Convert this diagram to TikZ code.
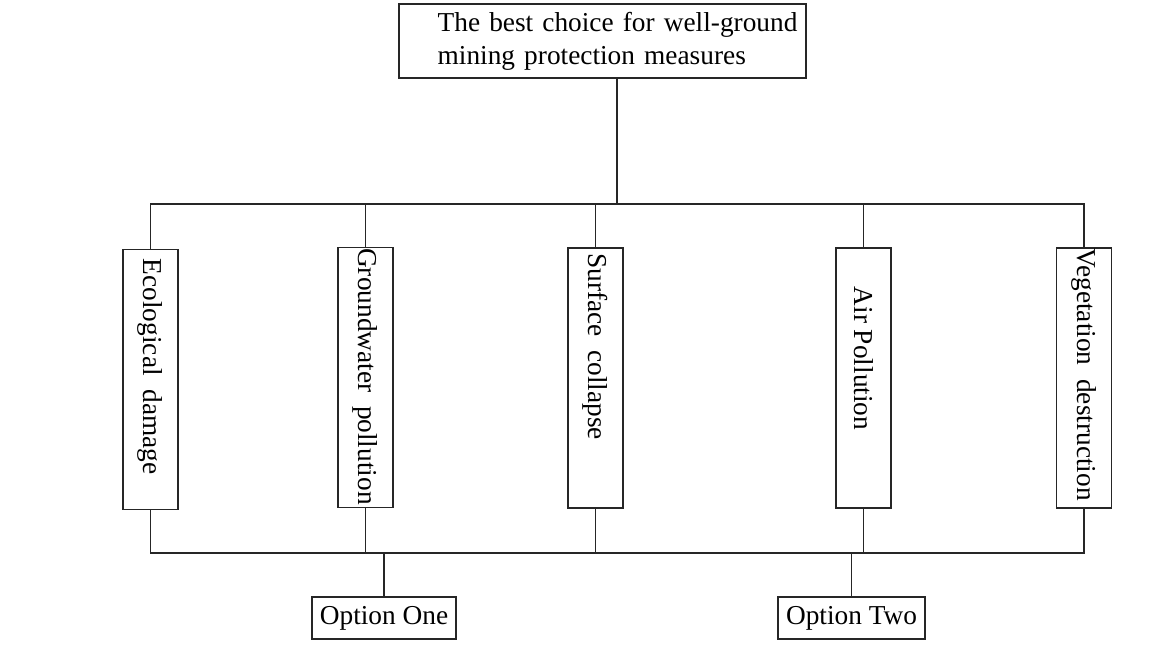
\documentclass[tikz,border=0pt]{standalone}
\usepackage{fontspec}
\setmainfont{Liberation Serif}
\usepackage{graphicx}
\tikzset{
  base/.style={draw=black!85, line width=0.8pt, font=\fontsize{20.5pt}{24.75pt}\selectfont, inner sep=0pt},
  topbox/.style={base, minimum width=305.25pt, minimum height=55.5pt, text width=305.25pt, align=left, inner xsep=0pt},
  vbox/.style={base, minimum width=41.25pt, minimum height=195pt},
  optbox/.style={base, minimum height=31.5pt},
  conn/.style={draw=black!85, line width=0.8pt}
}
\newcommand{\vtext}[2]{\rotatebox[origin=c]{-90}{\makebox[195pt][l]{\hspace*{#1}#2}}}
\begin{document}
\begin{tikzpicture}[x=0.75pt,y=-0.75pt]
\useasboundingbox (0,0) rectangle (1169,646);
\node[topbox] (top) at (602.5,41) {\hspace*{29pt}The best choice for well-ground\\\hspace*{29pt}mining protection measures};
\node[vbox] (eco) at (150.5,379.5) {\vtext{7pt}{Ecological\ \ damage}};
\node[vbox] (gw) at (365.5,377.5) {\vtext{0.5pt}{Groundwater\ \ pollution}};
\node[vbox] (sc) at (595.5,378) {\vtext{4pt}{Surface\ \ collapse}};
\node[vbox] (ap) at (863.5,378) {\vtext{29pt}{Air Pollution}};
\node[vbox] (vd) at (1084,378) {\vtext{0.5pt}{Vegetation\ \ destruction}};
\node[optbox, minimum width=108pt] (o1) at (384,618) {Option One};
\node[optbox, minimum width=110.25pt] (o2) at (851.5,618) {Option Two};
\coordinate (bt) at (617,204);
\coordinate (bb) at (0,553);
\draw[conn] (top.south -| bt) -- (bt);
\draw[conn] (eco.north) -- (eco.north |- bt) -- (vd.north |- bt) -- (vd.north);
\foreach \n in {gw,sc,ap} \draw[conn] (\n.north) -- (\n.north |- bt);
\draw[conn] (eco.south) -- (eco.south |- bb) -- (vd.south |- bb) -- (vd.south);
\foreach \n in {gw,sc,ap} \draw[conn] (\n.south) -- (\n.south |- bb);
\draw[conn] (o1.north) -- (o1.north |- bb);
\draw[conn] (o2.north) -- (o2.north |- bb);
\end{tikzpicture}
\end{document}
